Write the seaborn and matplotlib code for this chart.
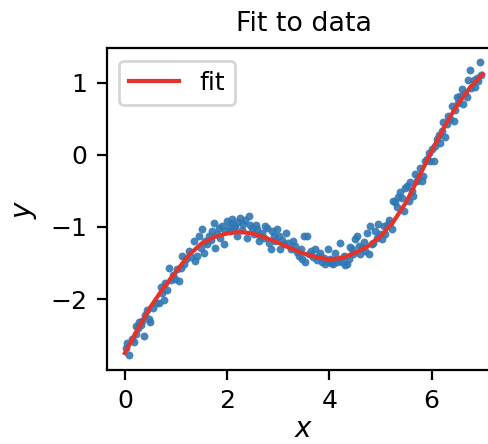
import matplotlib
matplotlib.use("Agg")
import matplotlib.pyplot as plt
import seaborn as sns
import pandas as pd

data_x = [0.02, 0.05, 0.09, 0.13, 0.18, 0.21, 0.21, 0.25, 0.27, 0.31, 0.34, 0.37, 0.40, 0.44, 0.47, 0.50,
          0.55, 0.60, 0.66, 0.70, 0.73, 0.76, 0.79, 0.83, 0.86, 0.90, 0.95, 0.99, 1.02, 1.05, 1.09, 1.12,
          1.16, 1.20,
          1.25, 1.30, 1.35, 1.38, 1.41, 1.45, 1.48, 1.51, 1.54, 1.57, 1.61, 1.64, 1.68, 1.71, 1.74, 1.77,
          1.80, 1.84, 1.87, 1.90, 1.93, 1.96, 2.00, 2.03, 2.06, 2.08, 2.10, 2.13, 2.16, 2.19, 2.22, 2.26,
          2.29, 2.32, 2.35, 2.39, 2.42, 2.45, 2.49, 2.52, 2.56, 2.59, 2.62, 2.65, 2.68, 2.72, 2.75, 2.78,
          2.82, 2.85, 2.88, 2.91, 2.94, 2.98,
          3.01, 3.04, 3.08, 3.12, 3.16, 3.20, 3.24, 3.28, 3.33, 3.36, 3.40, 3.44, 3.47, 3.50, 3.53, 3.56,
          3.60, 3.64, 3.68, 3.72, 3.75, 3.79, 3.82, 3.86, 3.89, 3.92, 3.95, 3.98, 4.01, 4.04, 4.08, 4.11,
          4.14, 4.18, 4.21, 4.25, 4.28, 4.31, 4.34, 4.38, 4.41, 4.44, 4.47, 4.51, 4.54, 4.57, 4.60, 4.63,
          4.67, 4.70, 4.73, 4.77, 4.80, 4.83, 4.86, 4.90, 4.93, 4.96, 5.00, 5.03, 5.06, 5.09, 5.13, 5.16,
          5.19, 5.22, 5.25, 5.28, 5.32, 5.35, 5.38, 5.42, 5.45, 5.48, 5.52, 5.55, 5.58, 5.61, 5.64, 5.68,
          5.71, 5.74, 5.78, 5.81, 5.84, 5.87, 5.91,
          5.94, 5.97, 6.00, 6.04, 6.07, 6.10, 6.14, 6.17, 6.20, 6.23, 6.26, 6.30, 6.33, 6.36, 6.39, 6.43,
          6.46, 6.49, 6.52, 6.56, 6.59, 6.62, 6.65, 6.69, 6.72, 6.75, 6.78, 6.82, 6.85, 6.88, 6.91, 6.94,
          6.97]
data_y = [-2.68, -2.61, -2.78, -2.55, -2.59, -2.49, -2.37, -2.40, -2.32, -2.36, -2.30, -2.51, -2.22, -2.15, -2.28, -2.32,
          -2.12, -2.05, -2.06, -1.83, -1.92, -2.01, -1.78, -1.88, -1.57, -1.74, -1.66, -1.72, -1.58, -1.75, -1.57, -1.40,
          -1.51, -1.44,
          -1.33, -1.42, -1.20, -1.47, -1.40, -1.13, -1.29, -1.03, -1.36, -1.20, -1.24, -1.12, -1.18, -1.05, -0.94, -1.29,
          -1.10, -1.02, -1.15, -0.99, -1.24, -1.05, -0.92, -1.00, -1.06, -0.95, -0.89, -1.02, -0.99, -1.13, -0.93, -0.87,
          -1.04, -0.96, -0.90, -1.15, -0.85, -0.97, -1.01, -1.10, -0.98, -1.03, -1.19, -1.12, -1.08, -1.16, -0.99, -1.01,
          -1.22, -1.31, -1.06, -1.12, -1.19, -1.03,
          -1.13, -1.31, -1.18, -1.24, -1.09, -1.22, -1.30, -1.19, -1.26, -1.35, -1.40, -1.31, -1.45, -1.13, -1.49, -1.13,
          -1.38, -1.33, -1.42, -1.31, -1.46, -1.40, -1.36, -1.49, -1.43, -1.52, -1.47, -1.31, -1.45, -1.50, -1.52, -1.36,
          -1.48, -1.45, -1.22, -1.49, -1.41, -1.53, -1.52, -1.45, -1.28, -1.31, -1.38, -1.17, -1.13, -1.26, -1.38, -1.29,
          -1.21, -1.34, -1.08, -1.38, -0.99, -1.24, -1.22, -1.05, -1.15, -0.96, -1.10, -1.17, -0.99, -1.10, -0.98, -0.90,
          -0.95, -1.03, -0.64, -0.66, -0.72, -0.58, -0.52, -0.60, -0.78, -0.46, -0.43, -0.64, -0.38, -0.50, -0.57, -0.27,
          -0.36, -0.31, -0.19, -0.36, -0.29, -0.08, -0.06,
          0.02, -0.08, 0.08, -0.08, 0.12, 0.22, 0.28, 0.17, 0.33, 0.45, 0.24, 0.42, 0.54, 0.49, 0.68, 0.47,
          0.62, 0.80, 0.72, 0.82, 0.91, 0.70, 0.85, 0.80, 1.03, 1.17, 0.93, 1.03, 0.94, 1.06, 1.02, 1.28,
          1.10]

# fitted curve
fit_x = [0.0, 0.25, 0.5, 0.75, 1.0, 1.25, 1.5, 1.75, 2.0, 2.25, 2.5, 2.75, 3.0, 3.25, 3.5,
         3.75, 4.0, 4.25, 4.5, 4.75, 5.0, 5.25, 5.5, 5.75, 6.0, 6.25, 6.5, 6.75, 7.0]
fit_y = [-2.75, -2.42, -2.11, -1.85, -1.62, -1.39, -1.23, -1.14, -1.09, -1.07, -1.09, -1.15, -1.22, -1.30, -1.37,
         -1.42, -1.45, -1.43, -1.36, -1.27, -1.13, -0.93, -0.66, -0.31, 0.05, 0.39, 0.69, 0.93, 1.12]

df_data = pd.DataFrame({"x": data_x, "y": data_y})
df_fit = pd.DataFrame({"x": fit_x, "y": fit_y})

plt.rcParams["font.size"] = 9
plt.rcParams["font.family"] = ["DejaVu Sans"]

fig = plt.figure(figsize=(489 / 200, 444 / 200), dpi=200)
ax = fig.add_axes([0.2188, 0.1673, 0.805, 0.7245])

sns.scatterplot(data=df_data, x="x", y="y", ax=ax, s=8, color="#2f78b4",
                linewidth=0, alpha=0.9, legend=False)
sns.lineplot(data=df_fit, x="x", y="y", ax=ax, color="#e6332a", linewidth=1.5,
             label="fit", sort=True, estimator=None)

ax.set_xlim(-0.35, 7.35)
ax.set_ylim(-2.98, 1.48)
ax.set_xticks([0, 2, 4, 6])
ax.set_yticks([-2, -1, 0, 1])
ax.set_title("Fit to data", fontsize=9.7)
ax.set_xlabel("$x$", fontsize=10, labelpad=0.5)
ax.set_ylabel("$y$", fontsize=10)
ax.legend(loc="upper left", fontsize=9)

fig.savefig("out.png", dpi=200)
